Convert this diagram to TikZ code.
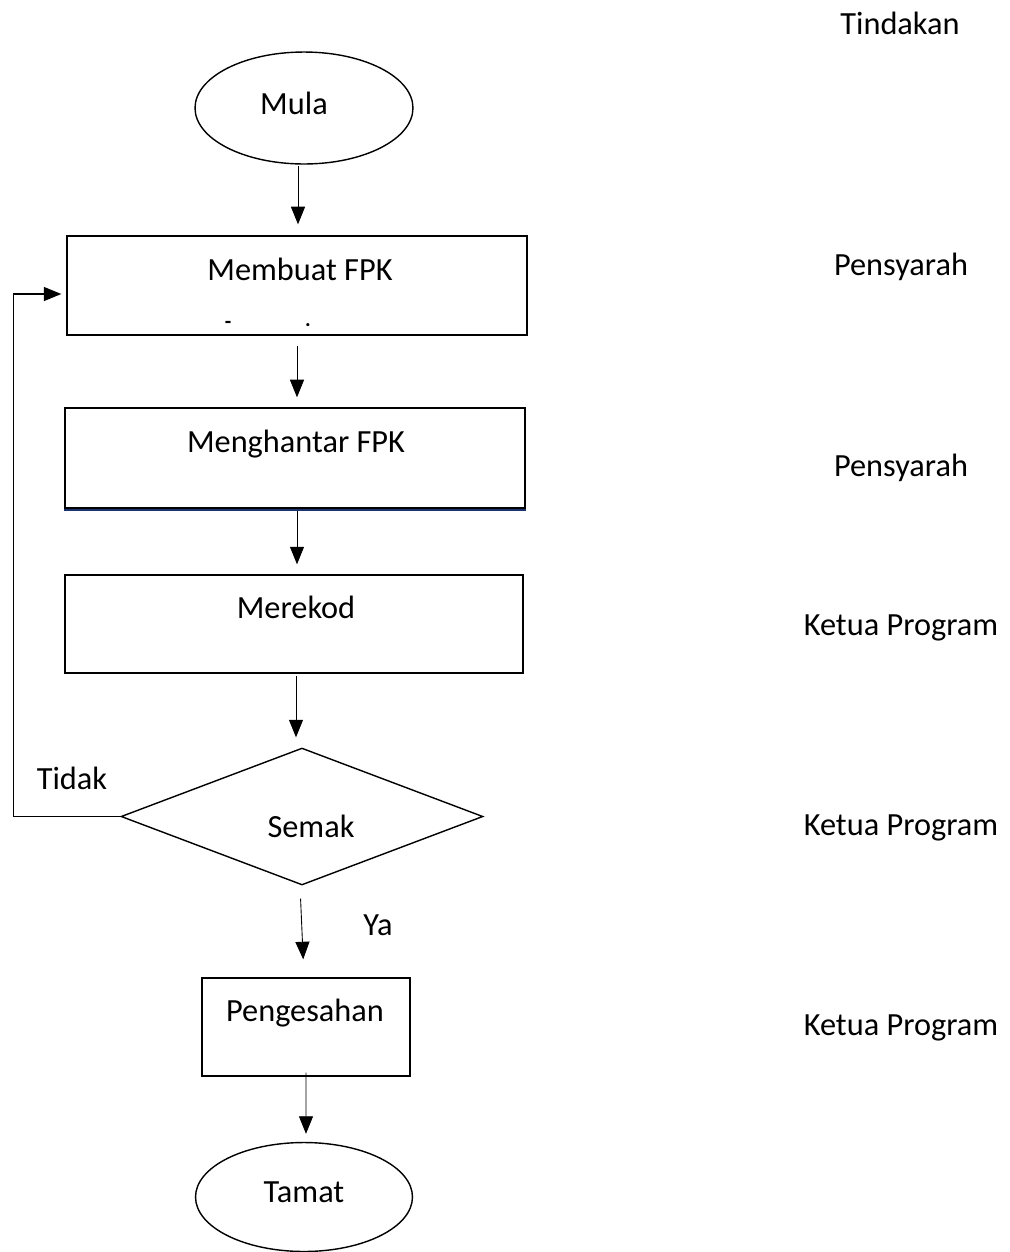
\documentclass[tikz,border=0pt]{standalone}
\usepackage{fontspec}
\setmainfont{Carlito}
\usetikzlibrary{shapes.geometric,arrows.meta}

\tikzset{
  box/.style={draw, line width=0.8pt, inner sep=0pt},
  txt/.style={anchor=base, inner sep=0pt, font=\fontsize{18.4}{22}\selectfont},
  arr/.style={-{Triangle[length=10pt,width=8pt]}, line width=0.5pt},
}

\begin{document}
\begin{tikzpicture}[x=0.02cm, y=-0.02cm]

    \definecolor{linkblue}{RGB}{30,50,110}
    \useasboundingbox (0,0) rectangle (1009,1252);

    % Start / end ellipses
    \node[box, ellipse, minimum width=4.36cm, minimum height=2.24cm] (mula) at (304,108) {};
    \node[box, ellipse, minimum width=4.34cm, minimum height=2.18cm] (tamat) at (304,1197) {};

    % Process boxes
    \node[box, minimum width=9.2cm, minimum height=1.98cm] (membuat) at (297,285.5) {};
    \node[box, minimum width=9.2cm, minimum height=2cm] (menghantar) at (295,458) {};
    \node[box, minimum width=9.16cm, minimum height=1.96cm] (merekod) at (294,624) {};
    \node[box, minimum width=4.16cm, minimum height=1.96cm] (pengesahan) at (306,1027) {};

    % Decision
    \node[box, diamond, minimum width=7.24cm, minimum height=2.74cm] (semak) at (302,816.5) {};

    % blue rule under the second box
    \draw[linkblue, line width=0.7pt] ([yshift=-0.025cm]menghantar.south west) -- ([yshift=-0.025cm]menghantar.south east);

    % Texts in the shapes
    \node[txt] (tmula) at (294,114) {Mula};
    \node[txt] (tmembuat) at (300,280) {Membuat FPK};
    \node[txt, font=\fontsize{12}{14}\bfseries] (tdash) at (228,328) {-};
    \node[txt, font=\fontsize{12}{14}\bfseries] (tdot) at (308,326) {.};
    \node[txt] (tmenghantar) at (296,452) {Menghantar FPK};
    \node[txt] (tmerekod) at (296,618) {Merekod};
    \node[txt] (tsemak) at (311,837) {Semak};
    \node[txt] (tpengesahan) at (305,1021) {Pengesahan};
    \node[txt] (ttamat) at (304,1202) {Tamat};

    % Branch labels
    \node[txt] (ttidak) at (72,789) {Tidak};
    \node[txt] (tya) at (378,935) {Ya};

    % Actor column
    \node[txt] (ttindakan) at (900,34) {Tindakan};
    \node[txt] (act1) at (901,275) {Pensyarah};
    \node[txt] (act2) at (901,476) {Pensyarah};
    \node[txt] (act3) at (901,635) {Ketua Program};
    \node[txt] (act4) at (901,835) {Ketua Program};
    \node[txt] (act5) at (901,1035) {Ketua Program};

    % Arrows
    \draw[arr, shorten <=1pt, shorten >=0.22cm] ([xshift=-0.12cm]mula.south) -- ([xshift=-0.12cm]mula.south |- membuat.north);
    \draw[arr, shorten <=0.2cm, shorten >=0.2cm] (membuat.south) -- (membuat.south |- menghantar.north);
    \draw[arr, shorten <=0.04cm, shorten >=0.2cm] ([xshift=0.04cm]menghantar.south) -- ([xshift=0.04cm]menghantar.south |- merekod.north);
    \draw[arr, shorten <=0.04cm, shorten >=0.2cm] ([xshift=0.04cm]merekod.south) -- ([xshift=0.04cm]merekod.south |- semak.north);
    \draw[arr, shorten <=0.26cm, shorten >=0.36cm] ([xshift=-0.04cm]semak.south) -- ([xshift=0.04cm]pengesahan.north -| semak.south);
    \draw[arr, shorten <=-0.08cm, shorten >=0.16cm] (pengesahan.south) -- ([xshift=0.04cm]tamat.north);

    % Loop back when Tidak
    \draw[arr, line width=0.8pt, shorten >=0.1cm] (semak.west) -- ++(-107,0) |- ([yshift=-0.17cm]membuat.west);

\end{tikzpicture}
\end{document}
